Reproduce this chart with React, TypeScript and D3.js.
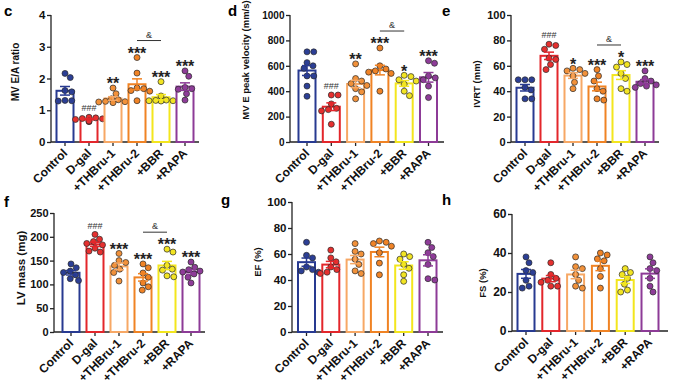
import React from "react";
import * as d3 from "d3";

// groups and colours
const groups = ["Control", "D-gal", "+THBru-1", "+THBru-2", "+BBR", "+RAPA"];
const barColors = ["#283a91", "#e3262b", "#f7a865", "#f08324", "#f3e61d", "#8d3b97"];
const dotColors = ["#2c3f95", "#e5302f", "#f1913a", "#f08326", "#f2e423", "#8e3c98"];

// c: MV E/A ratio
const mvEARatio = [
    [2.16, 2.03, 1.62, 1.58, 1.31, 1.29, 1.30],
    [0.78, 0.76, 0.74, 0.73, 0.71, 0.64, 0.66],
    [1.70, 1.52, 1.36, 1.33, 1.27, 1.26, 1.28, 1.24],
    [2.66, 2.17, 1.70, 1.68, 1.62, 1.30, 1.60],
    [1.90, 1.45, 1.32, 1.30, 1.30, 1.29, 1.31],
    [2.24, 2.07, 1.72, 1.68, 1.66, 1.52, 1.32],
];
const mvEASig = ["", "###", "**", "***", "***", "***"];

// d: MV E peak velocity (mm/s)
const mvEVelocity = [
    [710, 710, 625, 600, 580, 520, 520, 440, 360],
    [370, 370, 300, 265, 255, 245, 140],
    [615, 500, 480, 460, 445, 420, 395, 340],
    [740, 600, 575, 560, 550, 540, 400],
    [525, 515, 490, 480, 455, 400, 365],
    [640, 620, 520, 505, 490, 440, 350],
];
const mvESig = ["", "###", "**", "***", "*", "***"];

// e: IVRT (mm)
const ivrt = [
    [49, 49, 49, 43, 41, 34, 34],
    [77, 76, 73, 66, 65, 61, 57],
    [58, 57, 56, 54, 52, 47, 42],
    [57, 52, 48, 42, 40, 34, 33],
    [63, 61, 59, 54, 50, 42, 40],
    [56, 50, 48, 46, 45, 44, 43],
];
const ivrtSig = ["", "###", "*", "***", "*", "***"];

// f: LV mass (mg)
const lvMass = [
    [143, 135, 128, 125, 120, 112, 108],
    [205, 195, 190, 186, 183, 176, 170, 168],
    [165, 150, 146, 140, 132, 125, 107],
    [143, 135, 124, 115, 103, 95, 88],
    [174, 168, 140, 132, 130, 118, 116],
    [147, 136, 131, 128, 126, 122, 115, 103],
];
const lvMassSig = ["", "###", "***", "***", "***", "***"];

// g: EF (%)
const ef = [
    [69, 59, 57, 50, 48, 47, 46],
    [63, 57, 54, 50, 48, 46, 45],
    [68, 62, 60, 56, 52, 47, 45],
    [70, 69, 68, 66, 61, 53, 44],
    [60, 58, 56, 52, 49, 44, 39],
    [69, 65, 61, 58, 52, 41, 40],
];

// h: FS (%)
const fs = [
    [38, 35, 31, 30, 26, 23, 22],
    [35, 29, 27, 26, 25, 23, 23],
    [38, 33, 32, 29, 26, 23, 22],
    [40, 39, 37, 36, 32, 28, 22],
    [32, 30, 29, 27, 24, 21, 20],
    [38, 35, 32, 31, 27, 23, 20],
];

const noSig = ["", "", "", "", "", ""];

// panel layout
const panels = [
    { letter: "c", lx: 4, ly: 16, title: "MV E/A ratio", tx: 19, ty: 72, tSize: 10, kSize: 11.5, data: mvEARatio, sig: mvEASig, bracket: true,
        x0: 51, xEnd: 199, off: 14, step: 24, yTop: 15, yBot: 142, max: 4, tickStep: 1 },
    { letter: "d", lx: 228, ly: 16, title: "MV E peak velocity (mm/s)", tx: 249, ty: 60, tSize: 9.5, kSize: 10, data: mvEVelocity, sig: mvESig, bracket: true,
        x0: 290, xEnd: 444, off: 17, step: 24.3, yTop: 15, yBot: 142, max: 1000, tickStep: 200 },
    { letter: "e", lx: 442, ly: 16, title: "IVRT (mm)", tx: 480, ty: 84, tSize: 9.5, kSize: 11, data: ivrt, sig: ivrtSig, bracket: true,
        x0: 511, xEnd: 659, off: 14, step: 24, yTop: 15, yBot: 142, max: 100, tickStep: 20 },
    { letter: "f", lx: 4, ly: 207, title: "LV mass (mg)", tx: 25, ty: 268, tSize: 11.5, kSize: 11, data: lvMass, sig: lvMassSig, bracket: true,
        x0: 54, xEnd: 205, off: 17, step: 24, yTop: 213, yBot: 332, max: 250, tickStep: 50 },
    { letter: "g", lx: 221, ly: 205, title: "EF (%)", tx: 261, ty: 262, tSize: 9.5, kSize: 11.5, data: ef, sig: noSig, bracket: false,
        x0: 292, xEnd: 443, off: 14.5, step: 24.3, yTop: 202, yBot: 332, max: 100, tickStep: 20 },
    { letter: "h", lx: 442, ly: 205, title: "FS (%)", tx: 486, ty: 283, tSize: 9.5, kSize: 12, data: fs, sig: noSig, bracket: false,
        x0: 512, xEnd: 668, off: 14, step: 24.8, yTop: 214, yBot: 331, max: 60, tickStep: 20 },
];

const FONT = "'Liberation Sans', Arial, sans-serif";
const R = 3;

// simple beeswarm: nudge each dot sideways until it no longer overlaps
const swarm = (ys) => {
    const placed = [];
    const order = ys.map((y, i) => i).sort((a, b) => ys[a] - ys[b]);
    const out = new Array(ys.length).fill(0);
    order.forEach(i => {
        const y = ys[i];
        let dx = 0;
        for (let k = 0; k < 40; k++) {
            const cand = k === 0 ? 0 : (k % 2 ? 1 : -1) * Math.ceil(k / 2) * 0.75;
            const hit = placed.some(p => Math.hypot(p.x - cand, p.y - y) < 2 * R + 0.4);
            if (!hit) { dx = cand; break; }
        }
        placed.push({ x: dx, y });
        out[i] = dx;
    });
    return out;
};

const App = () => {
    const svgRef = React.useRef(null);

    React.useEffect(() => {
        drawChart()
    }, []);

    const drawChart = () => {
        if (!svgRef.current) return
        const svg = d3.select(svgRef.current);
        svg.selectAll("*").remove();
        svg.append("rect").attr("width", 678).attr("height", 384).attr("fill", "#fff");

        panels.forEach(p => {
            const g = svg.append("g").style("font-family", FONT);
            const x = d3.scalePoint()
                .domain(groups)
                .range([p.x0 + p.off, p.x0 + p.off + 5 * p.step]);
            const y = d3.scaleLinear().domain([0, p.max]).range([p.yBot, p.yTop]);

            // panel letter
            g.append("text")
                .attr("x", p.lx).attr("y", p.ly)
                .attr("font-size", 15).attr("font-weight", "bold")
                .text(p.letter);

            // y title
            g.append("text")
                .attr("transform", `translate(${p.tx},${p.ty}) rotate(-90)`)
                .attr("text-anchor", "middle")
                .attr("font-size", p.tSize).attr("font-weight", "bold")
                .attr("fill", "#111")
                .text(p.title);

            // y axis
            const yAxis = d3.axisLeft(y)
                .tickValues(d3.range(0, p.max + p.tickStep / 2, p.tickStep))
                .tickSize(4)
                .tickPadding(1.5)
                .tickFormat(d3.format("d"));
            const ya = g.append("g").attr("transform", `translate(${p.x0},0)`).call(yAxis);
            ya.select(".domain").attr("stroke", "#222").attr("stroke-width", 1.3).attr("d", `M0,${p.yTop}V${p.yBot}`);
            ya.selectAll(".tick line").attr("stroke", "#222").attr("stroke-width", 1.3);
            ya.selectAll(".tick text")
                .attr("font-size", p.kSize).attr("font-weight", "bold")
                .attr("font-family", FONT).attr("fill", "#111");

            // x axis
            g.append("line")
                .attr("x1", p.x0).attr("x2", p.xEnd)
                .attr("y1", p.yBot).attr("y2", p.yBot)
                .attr("stroke", "#222").attr("stroke-width", 1.3);
            groups.forEach(gr => {
                g.append("line")
                    .attr("x1", x(gr)).attr("x2", x(gr))
                    .attr("y1", p.yBot).attr("y2", p.yBot + 4)
                    .attr("stroke", "#222").attr("stroke-width", 1.3);
                g.append("text")
                    .attr("transform", `translate(${x(gr) + 3},${p.yBot + 12}) rotate(-45)`)
                    .attr("text-anchor", "end")
                    .attr("font-size", 12).attr("font-weight", "bold")
                    .attr("fill", "#111")
                    .text(gr);
            });

            const bw = 17;
            const starCenters = [];
            p.data.forEach((vals, i) => {
                const cx = x(groups[i]);
                const mean = d3.mean(vals);
                const sem = d3.deviation(vals) / Math.sqrt(vals.length);

                // bar
                g.append("rect")
                    .attr("x", cx - bw / 2).attr("y", y(mean))
                    .attr("width", bw).attr("height", p.yBot - y(mean))
                    .attr("fill", "#fff")
                    .attr("stroke", barColors[i]).attr("stroke-width", 2);

                // dots
                const ys = vals.map(v => y(v));
                const dx = swarm(ys);
                g.append("g")
                    .selectAll("circle")
                    .data(vals)
                    .join("circle")
                    .attr("cx", (d, j) => cx + dx[j])
                    .attr("cy", d => y(d))
                    .attr("r", R)
                    .attr("fill", dotColors[i])
                    .attr("stroke", "#2a2a2a")
                    .attr("stroke-width", 0.7);

                // mean +- SEM
                const eb = g.append("g").attr("stroke", barColors[i]).attr("stroke-width", 1.5);
                eb.append("line").attr("x1", cx).attr("x2", cx).attr("y1", y(mean + sem)).attr("y2", y(mean - sem));
                eb.append("line").attr("x1", cx - 5).attr("x2", cx + 5).attr("y1", y(mean + sem)).attr("y2", y(mean + sem));
                eb.append("line").attr("x1", cx - 5).attr("x2", cx + 5).attr("y1", y(mean - sem)).attr("y2", y(mean - sem));

                // significance marks
                const top = Math.min(y(d3.max(vals)), y(mean + sem));
                const s = p.sig[i];
                if (s.startsWith("#")) {
                    g.append("text")
                        .attr("x", cx).attr("y", top - 5.8)
                        .attr("text-anchor", "middle")
                        .attr("font-size", 9).attr("fill", "#333")
                        .text(s);
                    starCenters[i] = top - 9;
                } else if (s) {
                    g.append("text")
                        .attr("x", cx).attr("y", top + 1.2)
                        .attr("text-anchor", "middle")
                        .attr("font-size", 16).attr("font-weight", "bold").attr("fill", "#222")
                        .text(s);
                    starCenters[i] = top - 8;
                }
            });

            // & bracket between +THBru-2 and +BBR
            if (p.bracket) {
                const by = Math.min(starCenters[3], starCenters[4]) - 9;
                g.append("line")
                    .attr("x1", x(groups[3])).attr("x2", x(groups[4]))
                    .attr("y1", by).attr("y2", by)
                    .attr("stroke", "#333").attr("stroke-width", 1);
                g.append("text")
                    .attr("x", (x(groups[3]) + x(groups[4])) / 2).attr("y", by - 3)
                    .attr("text-anchor", "middle")
                    .attr("font-size", 9).attr("fill", "#333")
                    .text("&");
            }
        });
    }

    return <svg ref={svgRef} width={678} height={384}
        style={{ position: "absolute", left: 0, top: 0, display: "block" }} />
}

export default App
